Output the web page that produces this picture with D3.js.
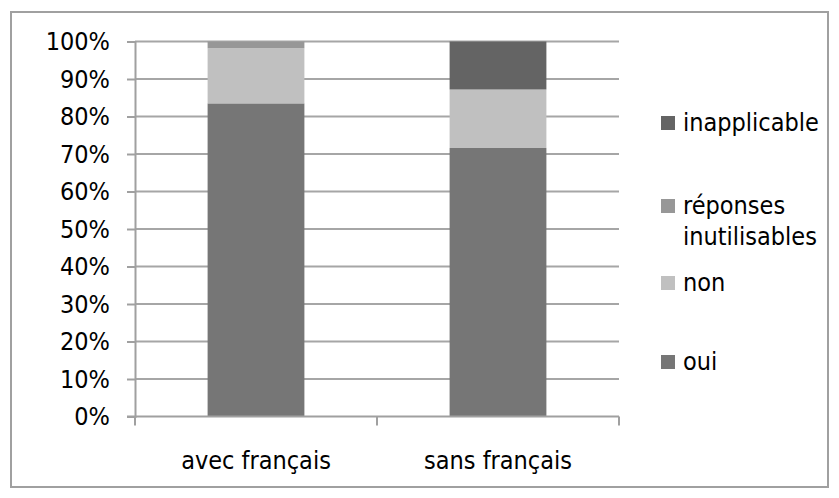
<!DOCTYPE html>
<html>
<head>
<meta charset="utf-8">
<script src="https://cdn.jsdelivr.net/npm/d3@7"></script>
<style>
  html, body { margin: 0; padding: 0; background: #fff; }
  svg { display: block; }
  text { font-family: "DejaVu Sans Condensed", "DejaVu Sans", sans-serif; font-stretch: condensed; fill: #000; }
</style>
</head>
<body>
<svg id="chart" width="839" height="498"></svg>
<script>
// Répartition des réponses (en % du total de chaque groupe)
const categories = ["avec français", "sans français"];
const seriesNames = ["oui", "non", "réponses inutilisables", "inapplicable"];
const oui = [83.5, 71.6];
const non = [14.7, 15.6];
const reponsesInutilisables = [1.8, 0];
const inapplicable = [0, 12.8];
const yTicks = [0, 10, 20, 30, 40, 50, 60, 70, 80, 90, 100];

const FONT = "'DejaVu Sans Condensed', 'DejaVu Sans', sans-serif";
const FONT_SIZE = 25;

const colors = {
  "oui": "#767676",
  "non": "#c0c0c0",
  "réponses inutilisables": "#979797",
  "inapplicable": "#646464"
};

const rows = categories.map((c, i) => ({
  category: c,
  "oui": oui[i],
  "non": non[i],
  "réponses inutilisables": reponsesInutilisables[i],
  "inapplicable": inapplicable[i]
}));

const svg = d3.select("#chart");

// Cadre du graphique
svg.append("rect")
  .attr("x", 11).attr("y", 12)
  .attr("width", 817).attr("height", 475)
  .attr("fill", "#fff")
  .attr("stroke", "#a0a0a0")
  .attr("stroke-width", 2);

const plot = { left: 135, right: 619, top: 41.5, bottom: 416.5 };

const x = d3.scaleBand()
  .domain(categories)
  .range([plot.left, plot.right])
  .paddingInner(0.6)
  .paddingOuter(0.3);

const y = d3.scaleLinear()
  .domain([0, 100])
  .range([plot.bottom, plot.top]);

// Quadrillage horizontal
svg.append("g")
  .selectAll("line")
  .data(yTicks.filter(t => t > 0))
  .join("line")
  .attr("x1", plot.left).attr("x2", plot.right)
  .attr("y1", d => y(d)).attr("y2", d => y(d))
  .attr("stroke", "#a6a6a6")
  .attr("stroke-width", 2);

// Barres empilées
const stack = d3.stack().keys(seriesNames)(rows);
svg.append("g")
  .selectAll("g")
  .data(stack)
  .join("g")
  .attr("fill", d => colors[d.key])
  .selectAll("rect")
  .data(d => d.filter(s => s[1] - s[0] > 0))
  .join("rect")
  .attr("x", d => x(d.data.category))
  .attr("width", x.bandwidth())
  .attr("y", d => y(d[1]))
  .attr("height", d => y(d[0]) - y(d[1]));

// Axe vertical
const yAxis = svg.append("g")
  .attr("transform", `translate(${plot.left},0)`)
  .call(d3.axisLeft(y).tickValues(yTicks).tickFormat(d => d + "%").tickSize(8).tickPadding(17));
yAxis.select(".domain").attr("stroke", "#a0a0a0").attr("stroke-width", 2);
yAxis.selectAll(".tick line").attr("stroke", "#a0a0a0").attr("stroke-width", 2);
yAxis.selectAll(".tick text")
  .attr("font-family", FONT)
  .attr("font-size", FONT_SIZE)
  .attr("fill", "#000");

// Axe horizontal
const xAxisG = svg.append("g")
  .attr("transform", `translate(0,${plot.bottom})`);
xAxisG.append("line")
  .attr("x1", plot.left - 8).attr("x2", plot.right)
  .attr("y1", 0).attr("y2", 0)
  .attr("stroke", "#a0a0a0").attr("stroke-width", 2);
const step = (plot.right - plot.left) / categories.length;
xAxisG.selectAll(".xtick")
  .data(d3.range(categories.length + 1))
  .join("line")
  .attr("x1", i => plot.left + i * step).attr("x2", i => plot.left + i * step)
  .attr("y1", 0).attr("y2", 9)
  .attr("stroke", "#a0a0a0").attr("stroke-width", 2);
xAxisG.selectAll(".xlabel")
  .data(categories)
  .join("text")
  .attr("x", d => x(d) + x.bandwidth() / 2)
  .attr("y", 52)
  .attr("text-anchor", "middle")
  .attr("font-size", FONT_SIZE)
  .text(d => d);

// Légende (ordre inverse de l'empilement)
const legendItems = [
  { key: "inapplicable", lines: ["inapplicable"], cy: 123 },
  { key: "réponses inutilisables", lines: ["réponses", "inutilisables"], cy: 206 },
  { key: "non", lines: ["non"], cy: 283 },
  { key: "oui", lines: ["oui"], cy: 362 }
];
const legend = svg.append("g");
const li = legend.selectAll("g").data(legendItems).join("g");
li.append("rect")
  .attr("x", 661).attr("y", d => d.cy - 7)
  .attr("width", 14).attr("height", 14)
  .attr("fill", d => colors[d.key]);
li.append("text")
  .attr("x", 683)
  .attr("y", d => d.cy + 8)
  .attr("font-size", FONT_SIZE)
  .selectAll("tspan")
  .data(d => d.lines)
  .join("tspan")
  .attr("x", 683)
  .attr("dy", (d, i) => i === 0 ? 0 : 31)
  .text(d => d);
</script>
</body>
</html>
